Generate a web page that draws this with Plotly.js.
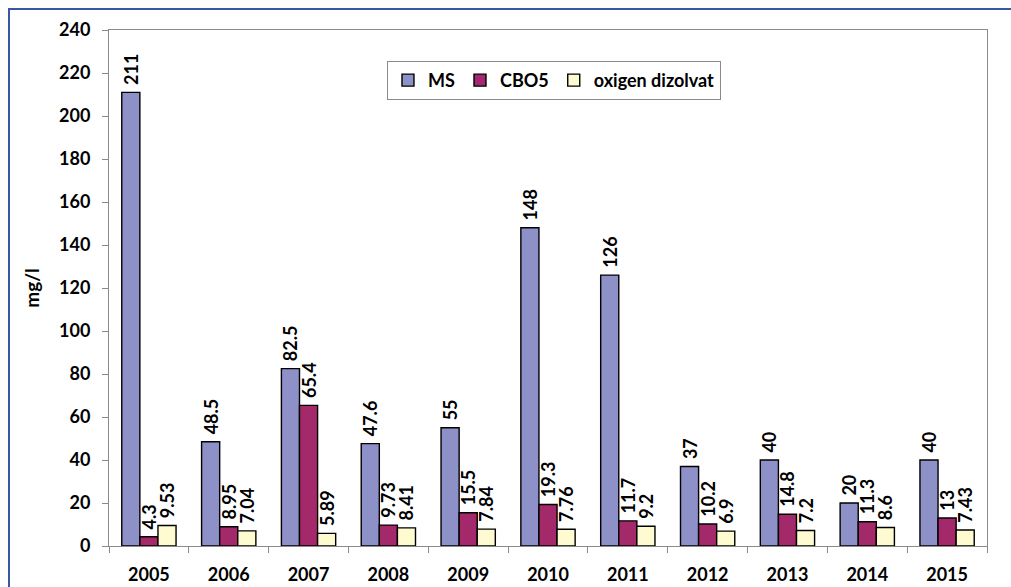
<!DOCTYPE html>
<html>
<head>
<meta charset="utf-8">
<script src="https://cdn.plot.ly/plotly-3.0.1.min.js"></script>
<style>
  html, body { margin: 0; padding: 0; background: #fff; }
  #wrap { position: relative; width: 1011px; height: 587px; overflow: hidden; }
  #frame { position: absolute; left: 8px; top: 8px; width: 1100px; height: 700px;
           border-top: 2px solid #3a57a5; border-left: 2px solid #3a57a5; pointer-events: none; }
  #chart { position: absolute; left: 0; top: 0; width: 1011px; height: 587px; }
</style>
</head>
<body>
<div id="wrap">
  <div id="chart"></div>
  <div id="frame"></div>
</div>
<script>
const years = ['2005','2006','2007','2008','2009','2010','2011','2012','2013','2014','2015'];
const msValues = [211, 48.5, 82.5, 47.6, 55, 148, 126, 37, 40, 20, 40];
const cboValues = [4.3, 8.95, 65.4, 9.73, 15.5, 19.3, 11.7, 10.2, 14.8, 11.3, 13];
const odValues = [9.53, 7.04, 5.89, 8.41, 7.84, 7.76, 9.2, 6.9, 7.2, 8.6, 7.43];
const seriesNames = ['MS', 'CBO5', 'oxigen dizolvat'];
const yTicks = [0, 20, 40, 60, 80, 100, 120, 140, 160, 180, 200, 220, 240];

const FONT = 'Lato, "Open Sans", "DejaVu Sans", sans-serif';
const colors = ['#8e90c8', '#a3296a', '#fffbd0'];
const series = [msValues, cboValues, odValues];

const traces = series.map((vals, i) => ({
  type: 'bar',
  name: seriesNames[i],
  x: years,
  y: vals,
  text: vals.map(v => '\u00a0' + String(v)),
  textposition: 'outside',
  textangle: -90,
  constraintext: 'none',
  cliponaxis: false,
  textfont: { family: FONT, size: 18, color: '#000', weight: 'bold' },
  marker: { color: colors[i], line: { color: '#000', width: 1.4 } },
  hoverinfo: 'skip'
}));

const layout = {
  width: 1011,
  height: 587,
  margin: { l: 109, r: 24, t: 30, b: 41 },
  paper_bgcolor: '#fff',
  plot_bgcolor: '#fff',
  barmode: 'group',
  bargap: 0.32,
  bargroupgap: 0,
  showlegend: true,
  legend: {
    orientation: 'h',
    x: 0.3166, y: 0.94, xanchor: 'left', yanchor: 'top',
    bgcolor: '#fff', bordercolor: '#8a8a8a', borderwidth: 1,
    font: { family: FONT, size: 18, color: '#000', weight: 'bold' },
    traceorder: 'normal'
  },
  xaxis: {
    type: 'category',
    showline: true, linecolor: '#8a8a8a', linewidth: 1, mirror: true,
    ticks: 'outside', tickson: 'boundaries', ticklen: 6, tickcolor: '#8a8a8a',
    ticklabelstandoff: 12,
    tickfont: { family: FONT, size: 18, color: '#000', weight: 'bold' },
    showgrid: false, zeroline: false, fixedrange: true
  },
  yaxis: {
    range: [0, 240],
    tickvals: yTicks,
    ticktext: yTicks.map(String),
    showline: true, linecolor: '#8a8a8a', linewidth: 1, mirror: true,
    ticks: 'outside', ticklen: 6, tickcolor: '#8a8a8a',
    ticklabelstandoff: 8,
    tickfont: { family: FONT, size: 18, color: '#000', weight: 'bold' },
    showgrid: false, zeroline: false, fixedrange: true,
    title: { text: 'mg/l', standoff: 14, font: { family: FONT, size: 19, color: '#000', weight: 'bold' } }
  }
};

Plotly.newPlot('chart', traces, layout, { displayModeBar: false, staticPlot: true });
</script>
</body>
</html>
